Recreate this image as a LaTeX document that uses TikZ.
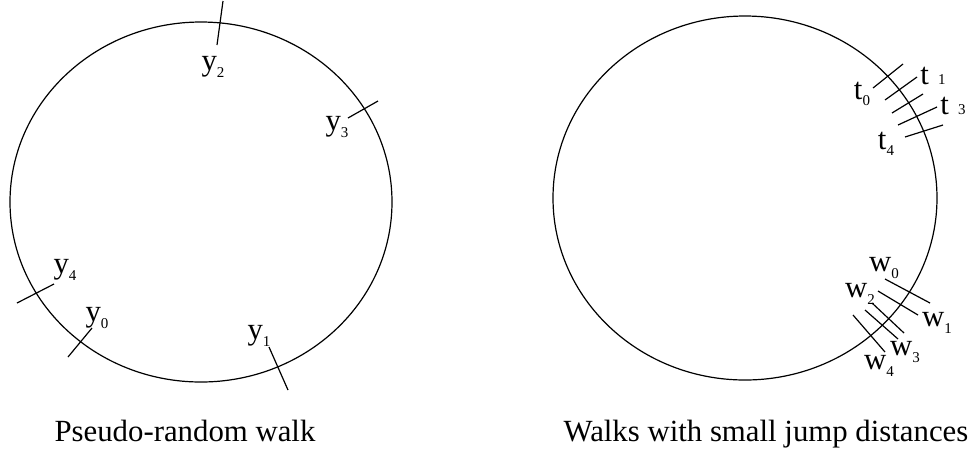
\documentclass[tikz,border=0pt]{standalone}
\usepackage{fontspec}
\setmainfont{Liberation Serif}
\usetikzlibrary{positioning}
\newcommand{\sublab}[2]{#1\raisebox{-0.45ex}{\fontsize{7.5}{8}\selectfont #2}}
\newcommand{\sidelab}[2]{#1\hspace{0.3em}{\fontsize{7.5}{8}\selectfont #2}}

\begin{document}
\begin{tikzpicture}[x=0.5pt,y=-0.5pt,
    lab/.style={font=\fontsize{15.4}{18}\selectfont, inner sep=0pt},
    notch/.style={line width=0.6pt}]
  \useasboundingbox (0,0) rectangle (974,452);

  % Pseudo-random walk
  \draw[line width=0.6pt] (201,202) ellipse [x radius=191, y radius=180];
  \foreach \xa/\ya/\xb/\yb in {223/1/217/45, 378/101/348/118, 54/284/17/303,
      92/328/68/357, 269/347/288/390}
    \draw[notch] (\xa,\ya) -- (\xb,\yb);
  \node[lab] (y0) at (97,318) {\sublab{y}{0}};
  \node[lab] (y1) at (259,336) {\sublab{y}{1}};
  \node[lab] (y2) at (213,67) {\sublab{y}{2}};
  \node[lab] (y3) at (337,127) {\sublab{y}{3}};
  \node[lab] (y4) at (65,270) {\sublab{y}{4}};
  \node[lab, anchor=base] (left caption) at (185,441) {Pseudo-random walk};

  % Small jumps
  \draw[line width=0.6pt] (745,198) ellipse [x radius=192, y radius=182];
  \foreach \xa/\ya/\xb/\yb in {873/88/903/64, 885/100/917/77, 892/113/923/94,
      898/125/937/107, 905/137/943/125}
    \draw[notch] (\xa,\ya) -- (\xb,\yb);
  \foreach \xa/\ya/\xb/\yb in {885/279/930/303, 878/291/918/315, 872/303/904/333,
      865/310/898/339, 853/315/885/352}
    \draw[notch] (\xa,\ya) -- (\xb,\yb);
  \node[lab] (t0) at (862,94) {\sublab{t}{0}};
  \node[lab] (t1) at (933,76) {\sidelab{t}{1}};
  \node[lab] (t3) at (953,106) {\sidelab{t}{3}};
  \node[lab] (t4) at (886,144) {\sublab{t}{4}};
  \node[lab] (w0) at (884,268) {\sublab{w}{0}};
  \node[lab] (w1) at (937,323) {\sublab{w}{1}};
  \node[lab] (w2) at (860,294) {\sublab{w}{2}};
  \node[lab] (w3) at (905,352) {\sublab{w}{3}};
  \node[lab] (w4) at (879,366) {\sublab{w}{4}};
  \node[lab, anchor=base] (right caption) at (766,441) {Walks with small jump distances};
\end{tikzpicture}
\end{document}
